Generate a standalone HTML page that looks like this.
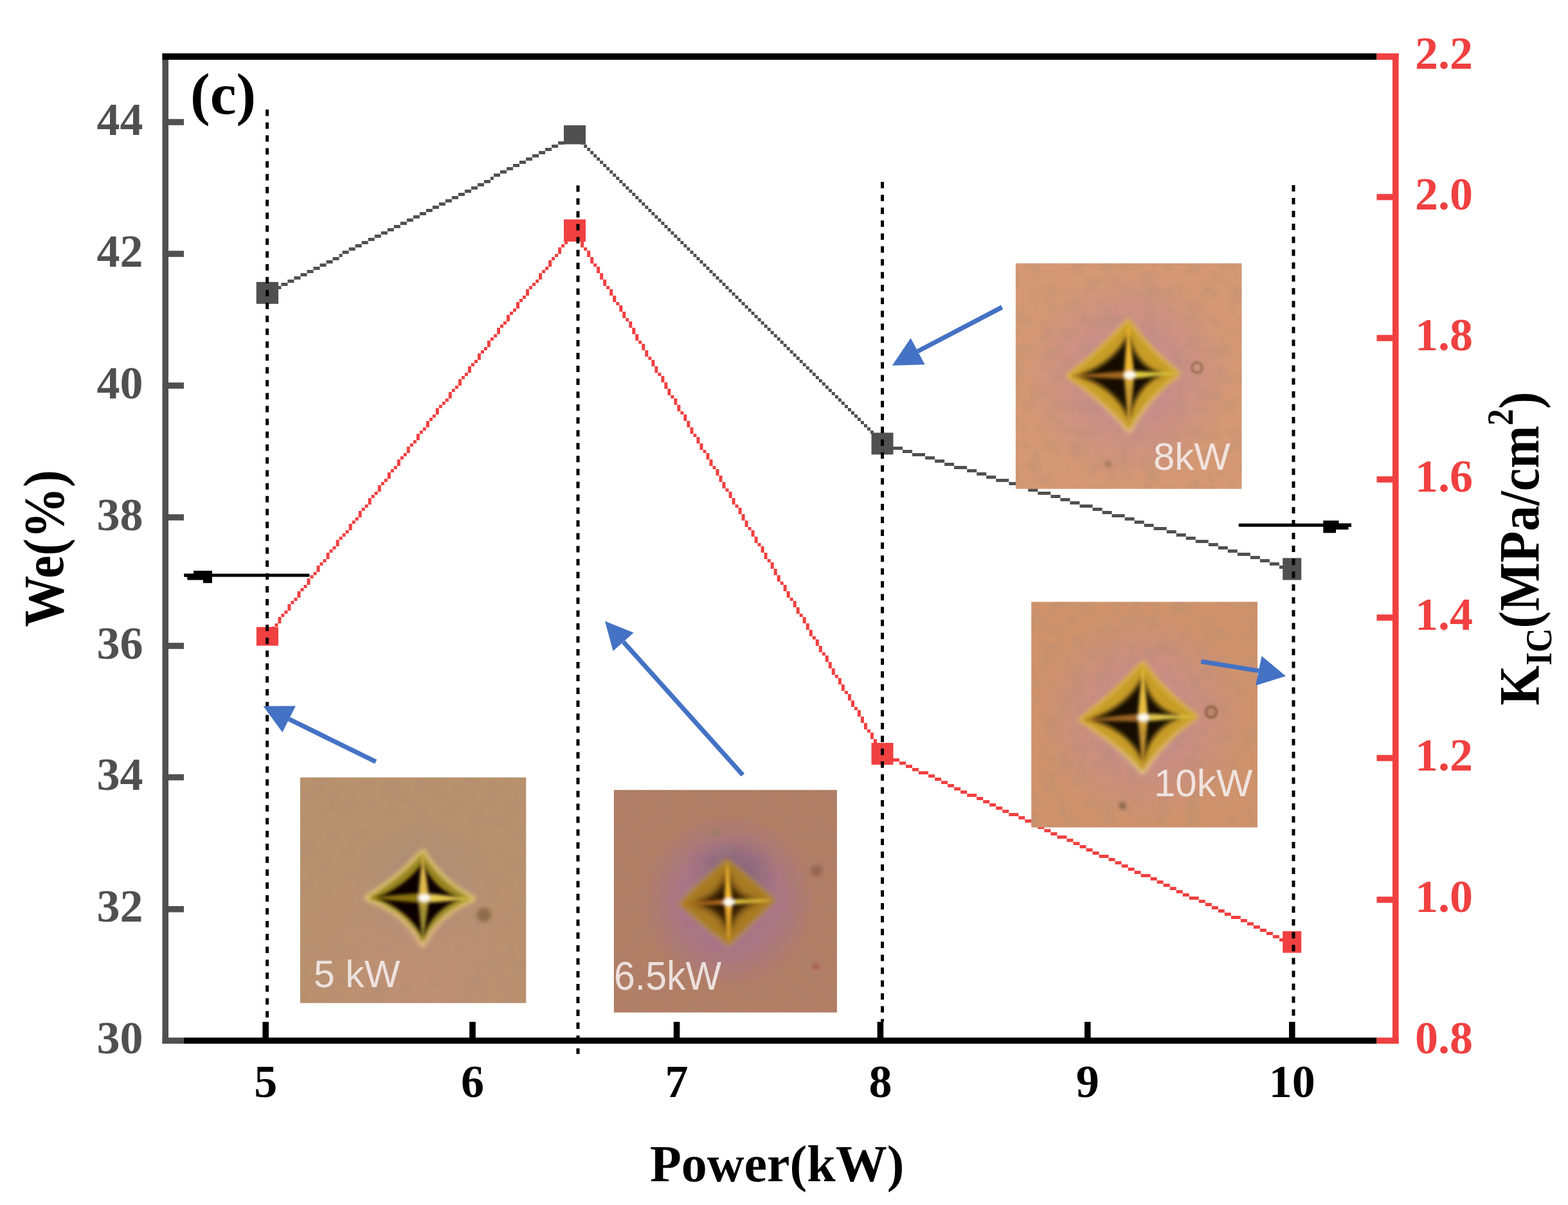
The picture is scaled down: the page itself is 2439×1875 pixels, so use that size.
<!DOCTYPE html>
<html lang="en">
<head>
<meta charset="utf-8">
<title>We and KIC versus Power</title>
<style>
html,body{margin:0;padding:0;background:#fff;}
body{width:2439px;height:1875px;overflow:hidden;}
svg{display:block;}
</style>
</head>
<body>
<svg width="2439" height="1875" viewBox="0 0 2439 1875">
<defs>
<filter id="b2" x="-20%" y="-20%" width="140%" height="140%"><feGaussianBlur stdDeviation="2.6"/></filter>
<filter id="b15" x="-50%" y="-50%" width="200%" height="200%"><feGaussianBlur stdDeviation="1.8"/></filter>
<filter id="b3" x="-50%" y="-50%" width="200%" height="200%"><feGaussianBlur stdDeviation="3"/></filter>
<filter id="b35" x="-30%" y="-30%" width="160%" height="160%"><feGaussianBlur stdDeviation="3.6"/></filter>
<filter id="b5" x="-30%" y="-30%" width="160%" height="160%"><feGaussianBlur stdDeviation="5.5"/></filter>
</defs>
<rect x="0" y="0" width="2439" height="1875" fill="#fff"/>
<g id="axes">
<rect x="252.5" y="83" width="9.5" height="1541" fill="#505050"/>
<rect x="252.5" y="1614.5" width="33.5" height="9.5" fill="#505050"/>
<rect x="252.5" y="83" width="1889" height="10" fill="#000"/>
<rect x="286" y="1614.5" width="1855.5" height="9.5" fill="#000"/>
<rect x="2166" y="83" width="9.6" height="1541" fill="#f04040"/>
<rect x="2141.5" y="83" width="34" height="10" fill="#f04040"/>
<rect x="2141.5" y="1614.5" width="34" height="9.5" fill="#f04040"/>
<rect x="262" y="185.2" width="24" height="9.6" fill="#505050"/>
<rect x="262" y="390.2" width="24" height="9.6" fill="#505050"/>
<rect x="262" y="595.2" width="24" height="9.6" fill="#505050"/>
<rect x="262" y="800.2" width="24" height="9.6" fill="#505050"/>
<rect x="262" y="1000.2" width="24" height="9.6" fill="#505050"/>
<rect x="262" y="1204.7" width="24" height="9.6" fill="#505050"/>
<rect x="262" y="1409.9" width="24" height="9.6" fill="#505050"/>
<rect x="2141.5" y="301.8" width="25" height="9.6" fill="#f04040"/>
<rect x="2141.5" y="521.2" width="25" height="9.6" fill="#f04040"/>
<rect x="2141.5" y="741.2" width="25" height="9.6" fill="#f04040"/>
<rect x="2141.5" y="956.2" width="25" height="9.6" fill="#f04040"/>
<rect x="2141.5" y="1174.7" width="25" height="9.6" fill="#f04040"/>
<rect x="2141.5" y="1395.2" width="25" height="9.6" fill="#f04040"/>
<rect x="408.4" y="1590" width="9.6" height="25" fill="#000"/>
<rect x="730.2" y="1590" width="9.6" height="25" fill="#000"/>
<rect x="1047.8" y="1590" width="9.6" height="25" fill="#000"/>
<rect x="1364.6000000000001" y="1590" width="9.6" height="25" fill="#000"/>
<rect x="1686.9" y="1590" width="9.6" height="25" fill="#000"/>
<rect x="2005.0" y="1590" width="9.6" height="25" fill="#000"/>
<path d="M412.4 455h5.0v5h-5.0zM417.4 450h10.0v5h-10.0zM427.4 445h10.0v5h-10.0zM437.4 440h10.0v5h-10.0zM447.4 435h10.0v5h-10.0zM457.4 430h10.0v5h-10.0zM467.5 425h10.0v5h-10.0zM477.5 420h10.0v5h-10.0zM487.5 415h10.0v5h-10.0zM497.5 410h10.0v5h-10.0zM507.5 405h10.0v5h-10.0zM517.5 400h10.0v5h-10.0zM527.6 395h5.0v5h-5.0zM532.6 390h10.0v5h-10.0zM542.6 385h10.0v5h-10.0zM552.6 380h10.0v5h-10.0zM562.6 375h10.0v5h-10.0zM572.6 370h10.0v5h-10.0zM582.7 365h10.0v5h-10.0zM592.7 360h10.0v5h-10.0zM602.7 355h10.0v5h-10.0zM612.7 350h10.0v5h-10.0zM622.7 345h10.0v5h-10.0zM632.7 340h10.0v5h-10.0zM642.8 335h10.0v5h-10.0zM652.8 330h10.0v5h-10.0zM662.8 325h10.0v5h-10.0zM672.8 320h10.0v5h-10.0zM682.8 315h10.0v5h-10.0zM692.8 310h10.0v5h-10.0zM702.8 305h10.0v5h-10.0zM712.9 300h10.0v5h-10.0zM722.9 295h10.0v5h-10.0zM732.9 290h10.0v5h-10.0zM742.9 285h10.0v5h-10.0zM752.9 280h10.0v5h-10.0zM762.9 275h5.0v5h-5.0zM768.0 270h10.0v5h-10.0zM778.0 265h10.0v5h-10.0zM788.0 260h10.0v5h-10.0zM798.0 255h10.0v5h-10.0zM808.0 250h10.0v5h-10.0zM818.0 245h10.0v5h-10.0zM828.1 240h10.0v5h-10.0zM838.1 235h10.0v5h-10.0zM848.1 230h10.0v5h-10.0zM858.1 225h10.0v5h-10.0zM868.1 220h10.0v5h-10.0zM878.1 215h10.0v5h-10.0zM888.2 210h10.0v5h-10.0zM893.2 210h5.0v5h-5.0zM898.2 215h5.0v5h-5.0zM903.2 220h5.0v5h-5.0zM908.2 225h5.0v5h-5.0zM913.2 230h5.0v5h-5.0zM918.2 235h5.0v5h-5.0zM923.2 240h5.0v5h-5.0zM928.2 245h5.0v5h-5.0zM933.2 250h5.0v5h-5.0zM938.2 255h5.0v5h-5.0zM943.2 260h5.0v5h-5.0zM948.3 265h5.0v5h-5.0zM953.3 270h5.0v5h-5.0zM958.3 275h5.0v5h-5.0zM963.3 280h5.0v5h-5.0zM968.3 285h5.0v5h-5.0zM973.3 290h5.0v5h-5.0zM978.3 295h5.0v5h-5.0zM983.3 300h5.0v5h-5.0zM988.3 305h5.0v5h-5.0zM993.3 310h5.0v5h-5.0zM998.3 315h5.0v5h-5.0zM1003.3 320h5.0v5h-5.0zM1008.4 325h5.0v5h-5.0zM1013.4 330h5.0v5h-5.0zM1018.4 335h5.0v5h-5.0zM1023.4 340h5.0v5h-5.0zM1028.4 345h5.0v5h-5.0zM1033.4 350h5.0v5h-5.0zM1038.4 355h5.0v5h-5.0zM1043.4 360h5.0v5h-5.0zM1048.4 365h5.0v5h-5.0zM1053.4 370h5.0v5h-5.0zM1058.4 375h5.0v5h-5.0zM1063.4 380h5.0v5h-5.0zM1068.4 385h5.0v5h-5.0zM1073.5 390h5.0v5h-5.0zM1078.5 395h5.0v5h-5.0zM1083.5 400h5.0v5h-5.0zM1088.5 405h5.0v5h-5.0zM1093.5 410h5.0v5h-5.0zM1098.5 415h5.0v5h-5.0zM1103.5 420h5.0v5h-5.0zM1108.5 425h5.0v5h-5.0zM1113.5 430h5.0v5h-5.0zM1118.5 435h5.0v5h-5.0zM1123.5 440h5.0v5h-5.0zM1128.5 445h5.0v5h-5.0zM1133.6 450h5.0v5h-5.0zM1138.6 455h5.0v5h-5.0zM1143.6 460h5.0v5h-5.0zM1148.6 465h5.0v5h-5.0zM1153.6 470h5.0v5h-5.0zM1158.6 475h5.0v5h-5.0zM1163.6 480h5.0v5h-5.0zM1168.6 485h5.0v5h-5.0zM1173.6 490h5.0v5h-5.0zM1178.6 495h5.0v5h-5.0zM1183.6 500h5.0v5h-5.0zM1188.6 505h5.0v5h-5.0zM1193.7 510h5.0v5h-5.0zM1198.7 515h5.0v5h-5.0zM1203.7 520h5.0v5h-5.0zM1208.7 525h5.0v5h-5.0zM1213.7 530h5.0v5h-5.0zM1218.7 535h5.0v5h-5.0zM1223.7 540h5.0v5h-5.0zM1228.7 545h5.0v5h-5.0zM1233.7 550h5.0v5h-5.0zM1238.7 555h5.0v5h-5.0zM1243.7 560h5.0v5h-5.0zM1248.7 565h5.0v5h-5.0zM1253.8 570h5.0v5h-5.0zM1258.8 575h5.0v5h-5.0zM1263.8 580h5.0v5h-5.0zM1268.8 585h5.0v5h-5.0zM1273.8 590h5.0v5h-5.0zM1278.8 595h5.0v5h-5.0zM1283.8 600h5.0v5h-5.0zM1288.8 605h5.0v5h-5.0zM1293.8 610h5.0v5h-5.0zM1298.8 615h5.0v5h-5.0zM1303.8 620h5.0v5h-5.0zM1308.8 625h5.0v5h-5.0zM1313.9 630h5.0v5h-5.0zM1318.9 635h5.0v5h-5.0zM1323.9 640h5.0v5h-5.0zM1328.9 645h5.0v5h-5.0zM1333.9 650h5.0v5h-5.0zM1338.9 655h5.0v5h-5.0zM1343.9 660h5.0v5h-5.0zM1348.9 665h5.0v5h-5.0zM1353.9 670h5.0v5h-5.0zM1358.9 675h5.0v5h-5.0zM1363.9 680h5.0v5h-5.0zM1368.9 685h5.0v5h-5.0zM1368.9 685h5.0v5h-5.0zM1374.0 690h15.0v5h-15.0zM1389.0 695h15.0v5h-15.0zM1404.0 700h15.0v5h-15.0zM1419.0 705h20.0v5h-20.0zM1439.1 710h15.0v5h-15.0zM1454.1 715h15.0v5h-15.0zM1469.1 720h15.0v5h-15.0zM1484.1 725h20.0v5h-20.0zM1504.2 730h15.0v5h-15.0zM1519.2 735h15.0v5h-15.0zM1534.2 740h15.0v5h-15.0zM1549.2 745h20.0v5h-20.0zM1569.3 750h15.0v5h-15.0zM1584.3 755h15.0v5h-15.0zM1599.3 760h15.0v5h-15.0zM1614.3 765h20.0v5h-20.0zM1634.4 770h15.0v5h-15.0zM1649.4 775h15.0v5h-15.0zM1664.4 780h15.0v5h-15.0zM1679.5 785h20.0v5h-20.0zM1699.5 790h15.0v5h-15.0zM1714.5 795h15.0v5h-15.0zM1729.5 800h20.0v5h-20.0zM1749.6 805h15.0v5h-15.0zM1764.6 810h15.0v5h-15.0zM1779.6 815h15.0v5h-15.0zM1794.6 820h20.0v5h-20.0zM1814.7 825h15.0v5h-15.0zM1829.7 830h15.0v5h-15.0zM1844.7 835h15.0v5h-15.0zM1859.7 840h20.0v5h-20.0zM1879.8 845h15.0v5h-15.0zM1894.8 850h15.0v5h-15.0zM1909.8 855h15.0v5h-15.0zM1924.9 860h20.0v5h-20.0zM1944.9 865h15.0v5h-15.0zM1959.9 870h15.0v5h-15.0zM1974.9 875h15.0v5h-15.0zM1990.0 880h20.0v5h-20.0z" fill="#505050"/>
<path d="M893.2 355h5.0v5h-5.0zM888.2 360h5.0v5h-5.0zM883.1 365h5.0v10h-5.0zM878.1 375h5.0v5h-5.0zM873.1 380h5.0v5h-5.0zM868.1 385h5.0v10h-5.0zM863.1 395h5.0v5h-5.0zM858.1 400h5.0v5h-5.0zM853.1 405h5.0v10h-5.0zM848.1 415h5.0v5h-5.0zM843.1 420h5.0v5h-5.0zM838.1 425h5.0v10h-5.0zM833.1 435h5.0v5h-5.0zM828.1 440h5.0v5h-5.0zM823.0 445h5.0v5h-5.0zM818.0 450h5.0v10h-5.0zM813.0 460h5.0v5h-5.0zM808.0 465h5.0v5h-5.0zM803.0 470h5.0v10h-5.0zM798.0 480h5.0v5h-5.0zM793.0 485h5.0v5h-5.0zM788.0 490h5.0v10h-5.0zM783.0 500h5.0v5h-5.0zM778.0 505h5.0v5h-5.0zM773.0 510h5.0v10h-5.0zM768.0 520h5.0v5h-5.0zM762.9 525h5.0v5h-5.0zM757.9 530h5.0v10h-5.0zM752.9 540h5.0v5h-5.0zM747.9 545h5.0v5h-5.0zM742.9 550h5.0v10h-5.0zM737.9 560h5.0v5h-5.0zM732.9 565h5.0v5h-5.0zM727.9 570h5.0v10h-5.0zM722.9 580h5.0v5h-5.0zM717.9 585h5.0v5h-5.0zM712.9 590h5.0v10h-5.0zM707.9 600h5.0v5h-5.0zM702.8 605h5.0v5h-5.0zM697.8 610h5.0v10h-5.0zM692.8 620h5.0v5h-5.0zM687.8 625h5.0v5h-5.0zM682.8 630h5.0v5h-5.0zM677.8 635h5.0v10h-5.0zM672.8 645h5.0v5h-5.0zM667.8 650h5.0v5h-5.0zM662.8 655h5.0v10h-5.0zM657.8 665h5.0v5h-5.0zM652.8 670h5.0v5h-5.0zM647.8 675h5.0v10h-5.0zM642.8 685h5.0v5h-5.0zM637.7 690h5.0v5h-5.0zM632.7 695h5.0v10h-5.0zM627.7 705h5.0v5h-5.0zM622.7 710h5.0v5h-5.0zM617.7 715h5.0v10h-5.0zM612.7 725h5.0v5h-5.0zM607.7 730h5.0v5h-5.0zM602.7 735h5.0v10h-5.0zM597.7 745h5.0v5h-5.0zM592.7 750h5.0v5h-5.0zM587.7 755h5.0v10h-5.0zM582.7 765h5.0v5h-5.0zM577.6 770h5.0v5h-5.0zM572.6 775h5.0v10h-5.0zM567.6 785h5.0v5h-5.0zM562.6 790h5.0v5h-5.0zM557.6 795h5.0v10h-5.0zM552.6 805h5.0v5h-5.0zM547.6 810h5.0v5h-5.0zM542.6 815h5.0v10h-5.0zM537.6 825h5.0v5h-5.0zM532.6 830h5.0v5h-5.0zM527.6 835h5.0v5h-5.0zM522.6 840h5.0v10h-5.0zM517.5 850h5.0v5h-5.0zM512.5 855h5.0v5h-5.0zM507.5 860h5.0v10h-5.0zM502.5 870h5.0v5h-5.0zM497.5 875h5.0v5h-5.0zM492.5 880h5.0v10h-5.0zM487.5 890h5.0v5h-5.0zM482.5 895h5.0v5h-5.0zM477.5 900h5.0v10h-5.0zM472.5 910h5.0v5h-5.0zM467.5 915h5.0v5h-5.0zM462.5 920h5.0v10h-5.0zM457.4 930h5.0v5h-5.0zM452.4 935h5.0v5h-5.0zM447.4 940h5.0v10h-5.0zM442.4 950h5.0v5h-5.0zM437.4 955h5.0v5h-5.0zM432.4 960h5.0v10h-5.0zM427.4 970h5.0v5h-5.0zM422.4 975h5.0v5h-5.0zM417.4 980h5.0v10h-5.0zM412.4 990h5.0v5h-5.0zM893.2 355h5.0v10h-5.0zM898.2 365h5.0v10h-5.0zM903.2 375h5.0v10h-5.0zM908.2 385h5.0v5h-5.0zM913.2 390h5.0v10h-5.0zM918.2 400h5.0v10h-5.0zM923.2 410h5.0v5h-5.0zM928.2 415h5.0v10h-5.0zM933.2 425h5.0v10h-5.0zM938.2 435h5.0v10h-5.0zM943.2 445h5.0v5h-5.0zM948.3 450h5.0v10h-5.0zM953.3 460h5.0v10h-5.0zM958.3 470h5.0v5h-5.0zM963.3 475h5.0v10h-5.0zM968.3 485h5.0v10h-5.0zM973.3 495h5.0v5h-5.0zM978.3 500h5.0v10h-5.0zM983.3 510h5.0v10h-5.0zM988.3 520h5.0v10h-5.0zM993.3 530h5.0v5h-5.0zM998.3 535h5.0v10h-5.0zM1003.3 545h5.0v10h-5.0zM1008.4 555h5.0v5h-5.0zM1013.4 560h5.0v10h-5.0zM1018.4 570h5.0v10h-5.0zM1023.4 580h5.0v5h-5.0zM1028.4 585h5.0v10h-5.0zM1033.4 595h5.0v10h-5.0zM1038.4 605h5.0v10h-5.0zM1043.4 615h5.0v5h-5.0zM1048.4 620h5.0v10h-5.0zM1053.4 630h5.0v10h-5.0zM1058.4 640h5.0v5h-5.0zM1063.4 645h5.0v10h-5.0zM1068.4 655h5.0v10h-5.0zM1073.5 665h5.0v10h-5.0zM1078.5 675h5.0v5h-5.0zM1083.5 680h5.0v10h-5.0zM1088.5 690h5.0v10h-5.0zM1093.5 700h5.0v5h-5.0zM1098.5 705h5.0v10h-5.0zM1103.5 715h5.0v10h-5.0zM1108.5 725h5.0v5h-5.0zM1113.5 730h5.0v10h-5.0zM1118.5 740h5.0v10h-5.0zM1123.5 750h5.0v10h-5.0zM1128.5 760h5.0v5h-5.0zM1133.6 765h5.0v10h-5.0zM1138.6 775h5.0v10h-5.0zM1143.6 785h5.0v5h-5.0zM1148.6 790h5.0v10h-5.0zM1153.6 800h5.0v10h-5.0zM1158.6 810h5.0v10h-5.0zM1163.6 820h5.0v5h-5.0zM1168.6 825h5.0v10h-5.0zM1173.6 835h5.0v10h-5.0zM1178.6 845h5.0v5h-5.0zM1183.6 850h5.0v10h-5.0zM1188.6 860h5.0v10h-5.0zM1193.7 870h5.0v5h-5.0zM1198.7 875h5.0v10h-5.0zM1203.7 885h5.0v10h-5.0zM1208.7 895h5.0v10h-5.0zM1213.7 905h5.0v5h-5.0zM1218.7 910h5.0v10h-5.0zM1223.7 920h5.0v10h-5.0zM1228.7 930h5.0v5h-5.0zM1233.7 935h5.0v10h-5.0zM1238.7 945h5.0v10h-5.0zM1243.7 955h5.0v5h-5.0zM1248.7 960h5.0v10h-5.0zM1253.8 970h5.0v10h-5.0zM1258.8 980h5.0v10h-5.0zM1263.8 990h5.0v5h-5.0zM1268.8 995h5.0v10h-5.0zM1273.8 1005h5.0v10h-5.0zM1278.8 1015h5.0v5h-5.0zM1283.8 1020h5.0v10h-5.0zM1288.8 1030h5.0v10h-5.0zM1293.8 1040h5.0v10h-5.0zM1298.8 1050h5.0v5h-5.0zM1303.8 1055h5.0v10h-5.0zM1308.8 1065h5.0v10h-5.0zM1313.9 1075h5.0v5h-5.0zM1318.9 1080h5.0v10h-5.0zM1323.9 1090h5.0v10h-5.0zM1328.9 1100h5.0v5h-5.0zM1333.9 1105h5.0v10h-5.0zM1338.9 1115h5.0v10h-5.0zM1343.9 1125h5.0v10h-5.0zM1348.9 1135h5.0v5h-5.0zM1353.9 1140h5.0v10h-5.0zM1358.9 1150h5.0v10h-5.0zM1363.9 1160h5.0v5h-5.0zM1368.9 1165h5.0v10h-5.0zM1368.9 1170h10.0v5h-10.0zM1379.0 1175h10.0v5h-10.0zM1389.0 1180h10.0v5h-10.0zM1399.0 1185h10.0v5h-10.0zM1409.0 1190h10.0v5h-10.0zM1419.0 1195h10.0v5h-10.0zM1429.0 1200h15.0v5h-15.0zM1444.1 1205h10.0v5h-10.0zM1454.1 1210h10.0v5h-10.0zM1464.1 1215h10.0v5h-10.0zM1474.1 1220h10.0v5h-10.0zM1484.1 1225h10.0v5h-10.0zM1494.1 1230h10.0v5h-10.0zM1504.2 1235h15.0v5h-15.0zM1519.2 1240h10.0v5h-10.0zM1529.2 1245h10.0v5h-10.0zM1539.2 1250h10.0v5h-10.0zM1549.2 1255h10.0v5h-10.0zM1559.3 1260h10.0v5h-10.0zM1569.3 1265h15.0v5h-15.0zM1584.3 1270h10.0v5h-10.0zM1594.3 1275h10.0v5h-10.0zM1604.3 1280h10.0v5h-10.0zM1614.3 1285h10.0v5h-10.0zM1624.4 1290h10.0v5h-10.0zM1634.4 1295h10.0v5h-10.0zM1644.4 1300h15.0v5h-15.0zM1659.4 1305h10.0v5h-10.0zM1669.4 1310h10.0v5h-10.0zM1679.5 1315h10.0v5h-10.0zM1689.5 1320h10.0v5h-10.0zM1699.5 1325h10.0v5h-10.0zM1709.5 1330h15.0v5h-15.0zM1724.5 1335h10.0v5h-10.0zM1734.5 1340h10.0v5h-10.0zM1744.6 1345h10.0v5h-10.0zM1754.6 1350h10.0v5h-10.0zM1764.6 1355h10.0v5h-10.0zM1774.6 1360h15.0v5h-15.0zM1789.6 1365h10.0v5h-10.0zM1799.6 1370h10.0v5h-10.0zM1809.7 1375h10.0v5h-10.0zM1819.7 1380h10.0v5h-10.0zM1829.7 1385h10.0v5h-10.0zM1839.7 1390h10.0v5h-10.0zM1849.7 1395h15.0v5h-15.0zM1864.8 1400h10.0v5h-10.0zM1874.8 1405h10.0v5h-10.0zM1884.8 1410h10.0v5h-10.0zM1894.8 1415h10.0v5h-10.0zM1904.8 1420h10.0v5h-10.0zM1914.8 1425h15.0v5h-15.0zM1929.9 1430h10.0v5h-10.0zM1939.9 1435h10.0v5h-10.0zM1949.9 1440h10.0v5h-10.0zM1959.9 1445h10.0v5h-10.0zM1969.9 1450h10.0v5h-10.0zM1979.9 1455h10.0v5h-10.0zM1990.0 1460h15.0v5h-15.0zM2005.0 1465h5.0v5h-5.0z" fill="#f04040"/>
<rect x="398.7" y="438.8" width="34.3" height="34" fill="#505050"/>
<rect x="877" y="195" width="34" height="29.5" fill="#505050"/>
<rect x="1355.5" y="673.3" width="34" height="34" fill="#505050"/>
<rect x="1995.2" y="868.3" width="29" height="34.2" fill="#505050"/>
<rect x="398.9" y="975.7" width="34" height="29" fill="#f04040"/>
<rect x="877" y="341.4" width="34" height="34.5" fill="#f04040"/>
<rect x="1355.5" y="1155.9" width="34" height="34" fill="#f04040"/>
<rect x="1995.2" y="1449" width="29" height="33.6" fill="#f04040"/>
<line x1="415.6" y1="170.5" x2="415.6" y2="1590" stroke="#000" stroke-width="5" stroke-dasharray="10 10.04"/>
<line x1="899" y1="288.5" x2="899" y2="1640" stroke="#000" stroke-width="5" stroke-dasharray="10 10.04"/>
<line x1="1372.5" y1="283" x2="1372.5" y2="1590" stroke="#000" stroke-width="5" stroke-dasharray="10 10.04"/>
<line x1="2012" y1="288" x2="2012" y2="1590" stroke="#000" stroke-width="5" stroke-dasharray="10 10.04"/>
<rect x="286.4" y="892.7" width="195" height="4.9" fill="#000"/>
<polygon points="286.4,892.7 301,892.7 301,888 330,888 330,907.3 316,907.3 316,902.4 291.3,902.4 291.3,897.6 286.4,897.6" fill="#000"/>
<rect x="1926.7" y="814.6" width="175.3" height="5.1" fill="#000"/>
<polygon points="2058.3,810 2082.5,810 2082.5,814.6 2102,814.6 2102,819.7 2097.5,819.7 2097.5,824 2078,824 2078,829.2 2058.3,829.2" fill="#000"/>
</g>
<g id="photos">
<clipPath id="clip1"><rect x="467" y="1209.7" width="351.3" height="351"/></clipPath>
<rect x="467" y="1209.7" width="351.3" height="351" fill="#b8916e"/>
<g clip-path="url(#clip1)">
<radialGradient id="halo1_0" gradientUnits="userSpaceOnUse" cx="657" cy="1385" r="120"><stop offset="0.3" stop-color="#a08c7c" stop-opacity="0.45"/><stop offset="1" stop-color="#a08c7c" stop-opacity="0"/></radialGradient>
<circle cx="657" cy="1385" r="120" fill="url(#halo1_0)"/>
<radialGradient id="halo1_1" gradientUnits="userSpaceOnUse" cx="650" cy="1520" r="200"><stop offset="0.2" stop-color="#c4907a" stop-opacity="0.5"/><stop offset="1" stop-color="#c4907a" stop-opacity="0"/></radialGradient>
<circle cx="650" cy="1520" r="200" fill="url(#halo1_1)"/>
<filter id="nz1" x="0" y="0" width="100%" height="100%"><feTurbulence type="fractalNoise" baseFrequency="0.045" numOctaves="2" seed="3" result="n"/><feColorMatrix type="matrix" values="0 0 0 0 0.35  0 0 0 0 0.25  0 0 0 0 0.2  1.6 0 0 0 -0.72"/></filter>
<rect x="467" y="1209.7" width="351.3" height="351" filter="url(#nz1)" opacity="0.35"/>
<circle cx="753" cy="1423.5" r="11" fill="#866644" opacity="0.85" filter="url(#b3)"/>
<linearGradient id="rim1" gradientUnits="userSpaceOnUse" x1="659" y1="1326" x2="659" y2="1469"><stop offset="0" stop-color="#ecd070"/><stop offset="0.55" stop-color="#ecd070"/><stop offset="1" stop-color="#f2c888"/></linearGradient>
<g filter="url(#b35)">
<path d="M572.0,1397.0 Q621.4,1366.9 657.5,1326.0 Q685.1,1372.8 735.0,1398.5 Q681.4,1419.2 657.5,1469.0 Q632.5,1418.7 572.0,1397.0Z" fill="url(#rim1)" stroke="url(#rim1)" stroke-width="9" stroke-linejoin="round"/>
<path d="M572.0,1397.0 Q621.4,1366.9 657.5,1326.0 Q685.1,1372.8 735.0,1398.5 Q681.4,1419.2 657.5,1469.0 Q632.5,1418.7 572.0,1397.0Z" fill="#94821a"/>
</g>
<g filter="url(#b2)">
<path d="M585.9,1397.0 Q633.0,1377.7 657.8,1341.7 Q673.1,1383.6 716.8,1398.2 Q674.3,1413.8 657.7,1457.5 Q635.2,1416.5 585.9,1397.0Z" fill="#0e0600"/>
</g>
<linearGradient id="rh1" gradientUnits="userSpaceOnUse" x1="572" y1="0" x2="735" y2="0"><stop offset="0" stop-color="#8a7410"/><stop offset="0.5" stop-color="#8a7410"/><stop offset="0.62" stop-color="#e6cc50"/><stop offset="1" stop-color="#e6cc50"/></linearGradient>
<linearGradient id="rv1" gradientUnits="userSpaceOnUse" x1="0" y1="1326" x2="0" y2="1469"><stop offset="0" stop-color="#e2bc4c"/><stop offset="0.45" stop-color="#e2bc4c"/><stop offset="0.62" stop-color="#a09030"/><stop offset="1" stop-color="#a09030"/></linearGradient>
<g filter="url(#b2)">
<polygon points="578,1397 659,1390.3 729,1398.5 659,1404.3" fill="url(#rh1)" stroke="url(#rh1)" stroke-width="2" stroke-linejoin="round"/>
<polygon points="657.5,1332 666.5,1397.3 657.5,1463 651.5,1397.3" fill="url(#rv1)" stroke="url(#rv1)" stroke-width="2" stroke-linejoin="round"/>
<ellipse cx="660" cy="1397.3" rx="9" ry="6" fill="#fffdf4"/>
</g>
</g>
<text x="488" y="1535.5" font-family="'Liberation Sans', sans-serif" font-size="59" fill="#f6f0f0" fill-opacity="0.86">5 kW</text>
<clipPath id="clip2"><rect x="954.9" y="1229.2" width="347" height="346.2"/></clipPath>
<rect x="954.9" y="1229.2" width="347" height="346.2" fill="#b27e66"/>
<g clip-path="url(#clip2)">
<radialGradient id="halo2_0" gradientUnits="userSpaceOnUse" cx="1134" cy="1402" r="135"><stop offset="0.55" stop-color="#a6728e" stop-opacity="0.8"/><stop offset="1" stop-color="#a6728e" stop-opacity="0"/></radialGradient>
<circle cx="1134" cy="1402" r="135" fill="url(#halo2_0)"/>
<radialGradient id="halo2_1" gradientUnits="userSpaceOnUse" cx="1150" cy="1362" r="62"><stop offset="0.3" stop-color="#5c5068" stop-opacity="0.34"/><stop offset="1" stop-color="#5c5068" stop-opacity="0"/></radialGradient>
<circle cx="1150" cy="1362" r="62" fill="url(#halo2_1)"/>
<radialGradient id="halo2_2" gradientUnits="userSpaceOnUse" cx="1115" cy="1352" r="50"><stop offset="0.3" stop-color="#6c5c70" stop-opacity="0.22"/><stop offset="1" stop-color="#6c5c70" stop-opacity="0"/></radialGradient>
<circle cx="1115" cy="1352" r="50" fill="url(#halo2_2)"/>
<filter id="nz2" x="0" y="0" width="100%" height="100%"><feTurbulence type="fractalNoise" baseFrequency="0.045" numOctaves="2" seed="7" result="n"/><feColorMatrix type="matrix" values="0 0 0 0 0.35  0 0 0 0 0.25  0 0 0 0 0.2  1.6 0 0 0 -0.72"/></filter>
<rect x="954.9" y="1229.2" width="347" height="346.2" filter="url(#nz2)" opacity="0.35"/>
<circle cx="1270" cy="1355" r="9" fill="#8a5a4a" opacity="0.7" filter="url(#b3)"/>
<circle cx="1114" cy="1296" r="6" fill="#8a7a5a" opacity="0.6" filter="url(#b3)"/>
<circle cx="1269" cy="1504" r="4" fill="#a04040" opacity="0.8" filter="url(#b3)"/>
<linearGradient id="rim2" gradientUnits="userSpaceOnUse" x1="1133" y1="1339" x2="1133" y2="1470"><stop offset="0" stop-color="#b4924a"/><stop offset="0.55" stop-color="#b4924a"/><stop offset="1" stop-color="#b89660"/></linearGradient>
<g filter="url(#b35)">
<path d="M1059.0,1406.4 Q1092.7,1370.8 1131.0,1339.0 Q1168.4,1368.7 1203.0,1401.0 Q1168.3,1435.5 1133.6,1470.0 Q1094.8,1439.6 1059.0,1406.4Z" fill="url(#rim2)" stroke="url(#rim2)" stroke-width="6" stroke-linejoin="round"/>
<path d="M1059.0,1406.4 Q1092.7,1370.8 1131.0,1339.0 Q1168.4,1368.7 1203.0,1401.0 Q1168.3,1435.5 1133.6,1470.0 Q1094.8,1439.6 1059.0,1406.4Z" fill="#a87a22"/>
</g>
<g filter="url(#b5)">
<path d="M1079.7,1405.6 Q1120.7,1393.9 1131.6,1358.4 Q1139.7,1396.6 1179.2,1401.9 Q1142.3,1412.6 1133.4,1450.1 Q1121.1,1414.5 1079.7,1405.6Z" fill="#2a1400"/>
</g>
<linearGradient id="rh2" gradientUnits="userSpaceOnUse" x1="1059" y1="0" x2="1203" y2="0"><stop offset="0" stop-color="#b0681c"/><stop offset="0.5" stop-color="#b0681c"/><stop offset="0.62" stop-color="#e6c83c"/><stop offset="1" stop-color="#e6c83c"/></linearGradient>
<linearGradient id="rv2" gradientUnits="userSpaceOnUse" x1="0" y1="1339" x2="0" y2="1470"><stop offset="0" stop-color="#f2b62e"/><stop offset="0.45" stop-color="#f2b62e"/><stop offset="0.62" stop-color="#e6a628"/><stop offset="1" stop-color="#e6a628"/></linearGradient>
<g filter="url(#b2)">
<polygon points="1065,1406.4 1133,1400.1 1197,1401 1133,1407.1" fill="url(#rh2)" stroke="url(#rh2)" stroke-width="2" stroke-linejoin="round"/>
<polygon points="1131,1345 1138.5,1403.6 1133.6,1464 1127.5,1403.6" fill="url(#rv2)" stroke="url(#rv2)" stroke-width="2" stroke-linejoin="round"/>
<ellipse cx="1134" cy="1403.6" rx="9" ry="6" fill="#fffdf4"/>
</g>
</g>
<text x="955" y="1540.3" font-family="'Liberation Sans', sans-serif" font-size="59" fill="#f6f0f0" fill-opacity="0.86" transform="translate(955,1540.3) scale(1.0,1.08) translate(-955,-1540.3)">6.5kW</text>
<clipPath id="clip3"><rect x="1579.9" y="409.7" width="351.6" height="351"/></clipPath>
<rect x="1579.9" y="409.7" width="351.6" height="351" fill="#d49874"/>
<g clip-path="url(#clip3)">
<radialGradient id="halo3_0" gradientUnits="userSpaceOnUse" cx="1756" cy="585" r="165"><stop offset="0.4" stop-color="#c48a92" stop-opacity="0.7"/><stop offset="1" stop-color="#c48a92" stop-opacity="0"/></radialGradient>
<circle cx="1756" cy="585" r="165" fill="url(#halo3_0)"/>
<filter id="nz3" x="0" y="0" width="100%" height="100%"><feTurbulence type="fractalNoise" baseFrequency="0.045" numOctaves="2" seed="11" result="n"/><feColorMatrix type="matrix" values="0 0 0 0 0.35  0 0 0 0 0.25  0 0 0 0 0.2  1.6 0 0 0 -0.72"/></filter>
<rect x="1579.9" y="409.7" width="351.6" height="351" filter="url(#nz3)" opacity="0.35"/>
<circle cx="1862" cy="572" r="8" fill="#c8967a" stroke="#94684e" stroke-width="4" opacity="0.8" filter="url(#b15)"/>
<circle cx="1724" cy="722" r="5" fill="#8a6a4a" opacity="0.7" filter="url(#b3)"/>
<linearGradient id="rim3" gradientUnits="userSpaceOnUse" x1="1756.4" y1="500" x2="1756.4" y2="670"><stop offset="0" stop-color="#e0bc4c"/><stop offset="0.55" stop-color="#e0bc4c"/><stop offset="1" stop-color="#e8c884"/></linearGradient>
<g filter="url(#b35)">
<path d="M1663.0,585.0 Q1712.8,545.8 1755.0,500.0 Q1787.9,547.0 1832.0,581.0 Q1785.7,616.3 1756.0,670.0 Q1716.5,620.9 1663.0,585.0Z" fill="url(#rim3)" stroke="url(#rim3)" stroke-width="8" stroke-linejoin="round"/>
<path d="M1663.0,585.0 Q1712.8,545.8 1755.0,500.0 Q1787.9,547.0 1832.0,581.0 Q1785.7,616.3 1756.0,670.0 Q1716.5,620.9 1663.0,585.0Z" fill="#c89c28"/>
</g>
<g filter="url(#b35)">
<path d="M1677.9,584.8 Q1733.3,565.5 1755.3,520.1 Q1766.3,571.2 1809.3,581.8 Q1768.0,598.0 1756.1,651.0 Q1734.7,602.5 1677.9,584.8Z" fill="#160a00"/>
</g>
<linearGradient id="rh3" gradientUnits="userSpaceOnUse" x1="1663" y1="0" x2="1832" y2="0"><stop offset="0" stop-color="#a0661c"/><stop offset="0.5" stop-color="#a0661c"/><stop offset="0.62" stop-color="#e0cc40"/><stop offset="1" stop-color="#e0cc40"/></linearGradient>
<linearGradient id="rv3" gradientUnits="userSpaceOnUse" x1="0" y1="500" x2="0" y2="670"><stop offset="0" stop-color="#f0b830"/><stop offset="0.45" stop-color="#f0b830"/><stop offset="0.62" stop-color="#c89a30"/><stop offset="1" stop-color="#c89a30"/></linearGradient>
<g filter="url(#b2)">
<polygon points="1669,585 1756.4,578.1 1826,581 1756.4,589.1" fill="url(#rh3)" stroke="url(#rh3)" stroke-width="2" stroke-linejoin="round"/>
<polygon points="1755,506 1763.4,583.6 1756,664 1749.4,583.6" fill="url(#rv3)" stroke="url(#rv3)" stroke-width="2" stroke-linejoin="round"/>
<ellipse cx="1757.4" cy="583.6" rx="9" ry="6" fill="#fffdf4"/>
</g>
</g>
<text x="1794" y="731" font-family="'Liberation Sans', sans-serif" font-size="60" fill="#f6f0f0" fill-opacity="0.86">8kW</text>
<clipPath id="clip4"><rect x="1604.2" y="936.5" width="351.8" height="351"/></clipPath>
<rect x="1604.2" y="936.5" width="351.8" height="351" fill="#cf936c"/>
<g clip-path="url(#clip4)">
<radialGradient id="halo4_0" gradientUnits="userSpaceOnUse" cx="1778" cy="1117" r="165"><stop offset="0.4" stop-color="#c48a92" stop-opacity="0.65"/><stop offset="1" stop-color="#c48a92" stop-opacity="0"/></radialGradient>
<circle cx="1778" cy="1117" r="165" fill="url(#halo4_0)"/>
<filter id="nz4" x="0" y="0" width="100%" height="100%"><feTurbulence type="fractalNoise" baseFrequency="0.045" numOctaves="2" seed="17" result="n"/><feColorMatrix type="matrix" values="0 0 0 0 0.35  0 0 0 0 0.25  0 0 0 0 0.2  1.6 0 0 0 -0.72"/></filter>
<rect x="1604.2" y="936.5" width="351.8" height="351" filter="url(#nz4)" opacity="0.35"/>
<circle cx="1884" cy="1108" r="8.5" fill="#b88468" stroke="#8c5e46" stroke-width="4" opacity="0.85" filter="url(#b15)"/>
<circle cx="1746" cy="1254" r="5" fill="#6a4a3a" opacity="0.8" filter="url(#b3)"/>
<linearGradient id="rim4" gradientUnits="userSpaceOnUse" x1="1777.7" y1="1033" x2="1777.7" y2="1201"><stop offset="0" stop-color="#e0bc4c"/><stop offset="0.55" stop-color="#e0bc4c"/><stop offset="1" stop-color="#e8d088"/></linearGradient>
<g filter="url(#b35)">
<path d="M1682.0,1120.0 Q1733.7,1079.7 1777.7,1033.0 Q1812.7,1080.4 1860.0,1115.0 Q1809.8,1148.8 1777.7,1201.0 Q1737.0,1153.9 1682.0,1120.0Z" fill="url(#rim4)" stroke="url(#rim4)" stroke-width="8" stroke-linejoin="round"/>
<path d="M1682.0,1120.0 Q1733.7,1079.7 1777.7,1033.0 Q1812.7,1080.4 1860.0,1115.0 Q1809.8,1148.8 1777.7,1201.0 Q1737.0,1153.9 1682.0,1120.0Z" fill="#c89c28"/>
</g>
<g filter="url(#b35)">
<path d="M1697.3,1119.4 Q1754.4,1098.9 1777.7,1053.0 Q1789.0,1104.2 1837.0,1115.4 Q1790.7,1131.1 1777.7,1184.1 Q1755.6,1135.8 1697.3,1119.4Z" fill="#140800"/>
</g>
<linearGradient id="rh4" gradientUnits="userSpaceOnUse" x1="1682" y1="0" x2="1860" y2="0"><stop offset="0" stop-color="#9a6420"/><stop offset="0.5" stop-color="#9a6420"/><stop offset="0.62" stop-color="#e0c848"/><stop offset="1" stop-color="#e0c848"/></linearGradient>
<linearGradient id="rv4" gradientUnits="userSpaceOnUse" x1="0" y1="1033" x2="0" y2="1201"><stop offset="0" stop-color="#ecc040"/><stop offset="0.45" stop-color="#ecc040"/><stop offset="0.62" stop-color="#c09030"/><stop offset="1" stop-color="#c09030"/></linearGradient>
<g filter="url(#b2)">
<polygon points="1688,1120 1777.7,1110.9 1854,1115 1777.7,1121.9" fill="url(#rh4)" stroke="url(#rh4)" stroke-width="2" stroke-linejoin="round"/>
<polygon points="1777.7,1039 1784.7,1116.4 1777.7,1195 1770.7,1116.4" fill="url(#rv4)" stroke="url(#rv4)" stroke-width="2" stroke-linejoin="round"/>
<ellipse cx="1778.7" cy="1116.4" rx="9" ry="6" fill="#fffdf4"/>
</g>
</g>
<text x="1795" y="1239" font-family="'Liberation Sans', sans-serif" font-size="60" fill="#f6f0f0" fill-opacity="0.86">10kW</text>
</g>
<g id="arrows">
<line x1="584.6" y1="1185.2" x2="449.6" y2="1119.0" stroke="#4472c4" stroke-width="7.2"/><polygon points="409.5,1098.7 459.9,1098.5 439.3,1139.5" fill="#4472c4"/>
<line x1="1155.4" y1="1205.9" x2="969.7" y2="998.8" stroke="#4472c4" stroke-width="7.2"/><polygon points="941,966.6 985.7,984.5 953.6,1013" fill="#4472c4"/>
<line x1="1558.7" y1="478" x2="1427.6" y2="546.6" stroke="#4472c4" stroke-width="7.2"/><polygon points="1387.8,568.7 1416.6,526 1438.6,567.3" fill="#4472c4"/>
<line x1="1868.3" y1="1029.2" x2="1957.8" y2="1043.8" stroke="#4472c4" stroke-width="7.2"/><polygon points="2000,1052 1962.5,1020.8 1953,1066.7" fill="#4472c4"/>
</g>
<g id="labels">
<text x="222.5" y="209.5" font-family="'Liberation Serif', serif" font-weight="bold" font-size="72" fill="#505050" text-anchor="end" >44</text>
<text x="222.5" y="414.5" font-family="'Liberation Serif', serif" font-weight="bold" font-size="72" fill="#505050" text-anchor="end" >42</text>
<text x="222.5" y="619.5" font-family="'Liberation Serif', serif" font-weight="bold" font-size="72" fill="#505050" text-anchor="end" >40</text>
<text x="222.5" y="824.5" font-family="'Liberation Serif', serif" font-weight="bold" font-size="72" fill="#505050" text-anchor="end" >38</text>
<text x="222.5" y="1024.5" font-family="'Liberation Serif', serif" font-weight="bold" font-size="72" fill="#505050" text-anchor="end" >36</text>
<text x="222.5" y="1229.0" font-family="'Liberation Serif', serif" font-weight="bold" font-size="72" fill="#505050" text-anchor="end" >34</text>
<text x="222.5" y="1434.2" font-family="'Liberation Serif', serif" font-weight="bold" font-size="72" fill="#505050" text-anchor="end" >32</text>
<text x="222.5" y="1639.0" font-family="'Liberation Serif', serif" font-weight="bold" font-size="72" fill="#505050" text-anchor="end" >30</text>
<text x="2201" y="325.6" font-family="'Liberation Serif', serif" font-weight="bold" font-size="72" fill="#f04040" text-anchor="start" >2.0</text>
<text x="2201" y="545" font-family="'Liberation Serif', serif" font-weight="bold" font-size="72" fill="#f04040" text-anchor="start" >1.8</text>
<text x="2201" y="765" font-family="'Liberation Serif', serif" font-weight="bold" font-size="72" fill="#f04040" text-anchor="start" >1.6</text>
<text x="2201" y="980" font-family="'Liberation Serif', serif" font-weight="bold" font-size="72" fill="#f04040" text-anchor="start" >1.4</text>
<text x="2201" y="1198.5" font-family="'Liberation Serif', serif" font-weight="bold" font-size="72" fill="#f04040" text-anchor="start" >1.2</text>
<text x="2201" y="1419" font-family="'Liberation Serif', serif" font-weight="bold" font-size="72" fill="#f04040" text-anchor="start" >1.0</text>
<text x="2201" y="107" font-family="'Liberation Serif', serif" font-weight="bold" font-size="72" fill="#f04040" text-anchor="start" >2.2</text>
<text x="2201" y="1638.5" font-family="'Liberation Serif', serif" font-weight="bold" font-size="72" fill="#f04040" text-anchor="start" >0.8</text>
<text x="413.2" y="1706.5" font-family="'Liberation Serif', serif" font-weight="bold" font-size="72" fill="#000" text-anchor="middle" >5</text>
<text x="735" y="1706.5" font-family="'Liberation Serif', serif" font-weight="bold" font-size="72" fill="#000" text-anchor="middle" >6</text>
<text x="1052.6" y="1706.5" font-family="'Liberation Serif', serif" font-weight="bold" font-size="72" fill="#000" text-anchor="middle" >7</text>
<text x="1369.4" y="1706.5" font-family="'Liberation Serif', serif" font-weight="bold" font-size="72" fill="#000" text-anchor="middle" >8</text>
<text x="1691.7" y="1706.5" font-family="'Liberation Serif', serif" font-weight="bold" font-size="72" fill="#000" text-anchor="middle" >9</text>
<text x="2009.8" y="1706.5" font-family="'Liberation Serif', serif" font-weight="bold" font-size="72" fill="#000" text-anchor="middle" >10</text>
<text x="296" y="177" font-family="'Liberation Serif', serif" font-weight="bold" font-size="92" fill="#000" text-anchor="start" >(c)</text>
<text x="1208.6" y="1838.3" font-family="'Liberation Serif', serif" font-weight="bold" font-size="80" fill="#000" text-anchor="middle" >Power(kW)</text>
<text transform="translate(97.5,853.5) rotate(-90) scale(1,1.1)" font-family="'Liberation Serif', serif" font-weight="bold" font-size="80" text-anchor="middle" fill="#000" >We(%)</text>
<text transform="translate(2393,853.5) rotate(-90) scale(1,1.1)" font-family="'Liberation Serif', serif" font-weight="bold" font-size="80" text-anchor="middle" fill="#000" >K<tspan font-size="52" dy="18">IC</tspan><tspan dy="-18">(MPa/cm</tspan><tspan font-size="52" dy="-36">2</tspan><tspan dy="36">)</tspan></text>
</g>
</svg>
</body>
</html>
